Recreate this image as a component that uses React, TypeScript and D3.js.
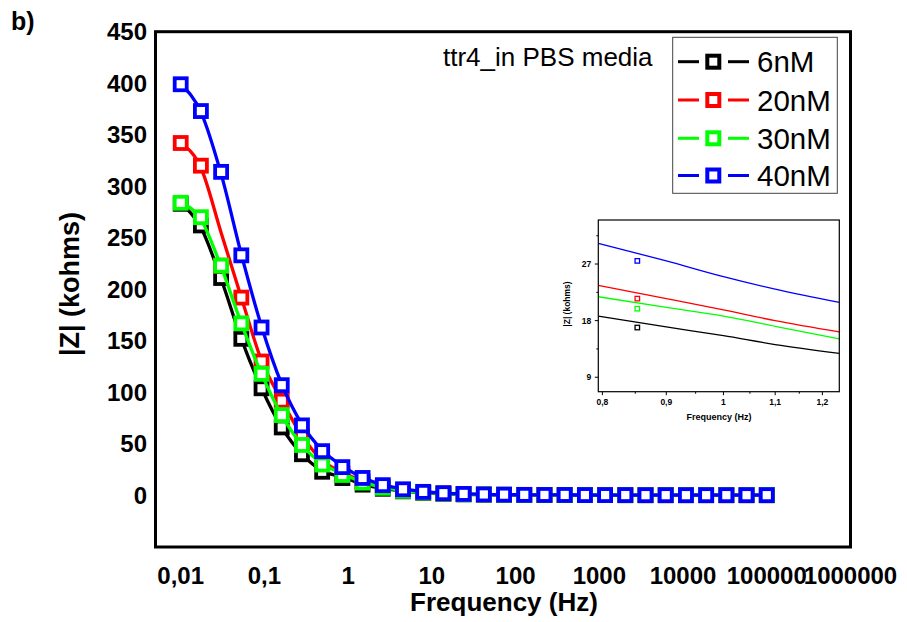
import React from "react";
import * as d3 from "d3";

// Frequencies (Hz) of the measured points
const FREQS = [0.01, 0.01743, 0.03039, 0.05298, 0.09237, 0.161, 0.2807, 0.4894, 0.8532, 1.487, 2.593, 4.52, 7.88, 13.74, 23.95, 41.75, 72.79, 126.9, 221.2, 385.7, 672.4, 1172, 2043, 3562, 6210, 10826, 18874, 32903, 57362, 100000];

// |Z| markers (kohms)
const Z_6NM = [283, 262, 211, 152, 104, 66, 40, 23, 16.9, 10.5, 6.5, 4, 2.5, 1.6, 1.1, 0.8, 0.6, 0.5, 0.5, 0.4, 0.4, 0.4, 0.3, 0.3, 0.3, 0.3, 0.3, 0.3, 0.3, 0.3];
const Z_20NM = [342, 320, 223, 192, 130, 92, 57, 33, 21.5, 13.5, 8, 5, 3, 2, 1.3, 0.9, 0.7, 0.5, 0.5, 0.4, 0.4, 0.4, 0.3, 0.3, 0.3, 0.3, 0.3, 0.3, 0.3, 0.3];
const Z_30NM = [284, 270, 223, 167, 118, 78, 49, 30, 19.9, 12.5, 7.5, 4.5, 2.8, 1.8, 1.2, 0.9, 0.7, 0.5, 0.5, 0.4, 0.4, 0.4, 0.3, 0.3, 0.3, 0.3, 0.3, 0.3, 0.3, 0.3];
const Z_40NM = [399, 373, 314, 233, 163, 107, 68, 43, 27.5, 17, 10, 6, 3.5, 2.2, 1.5, 1.0, 0.8, 0.6, 0.5, 0.5, 0.4, 0.4, 0.4, 0.3, 0.3, 0.3, 0.3, 0.3, 0.3, 0.3];

// Fitted curves (kohms) at the same frequencies
const FIT_6NM = [283, 260, 210, 152, 104, 66, 40, 24, 18, 11, 6.8, 4.2, 2.6, 1.6, 1.1, 0.8, 0.6, 0.5, 0.5, 0.4, 0.4, 0.4, 0.3, 0.3, 0.3, 0.3, 0.3, 0.3, 0.3, 0.3];
const FIT_20NM = [342, 318, 255, 192, 131, 92, 58, 34, 22.5, 14, 8.5, 5.2, 3.2, 2, 1.3, 0.9, 0.7, 0.5, 0.5, 0.4, 0.4, 0.4, 0.3, 0.3, 0.3, 0.3, 0.3, 0.3, 0.3, 0.3];
const FIT_30NM = [284, 268, 222, 167, 118, 78, 49, 31, 21, 13, 8, 4.8, 3, 1.9, 1.2, 0.9, 0.7, 0.5, 0.5, 0.4, 0.4, 0.4, 0.3, 0.3, 0.3, 0.3, 0.3, 0.3, 0.3, 0.3];
const FIT_40NM = [399, 372, 312, 234, 164, 108, 69, 44, 28.5, 17.5, 10.5, 6.3, 3.8, 2.3, 1.5, 1.0, 0.8, 0.6, 0.5, 0.5, 0.4, 0.4, 0.4, 0.3, 0.3, 0.3, 0.3, 0.3, 0.3, 0.3];

// Inset: fitted curves near 1 Hz
const INSET_FREQS = [0.794, 0.9, 1.0, 1.1, 1.238];
const INSET_6NM = [18.7, 17.0, 15.6, 14.2, 12.8];
const INSET_20NM = [23.6, 21.5, 19.7, 18.0, 16.2];
const INSET_30NM = [21.8, 20.1, 18.7, 17.1, 15.1];
const INSET_40NM = [30.3, 27.5, 25.0, 23.0, 20.9];

const SERIES_NAMES = ["6nM", "20nM", "30nM", "40nM"];
const SERIES_COLORS = ["#000000", "#ff0000", "#00ff00", "#0000ff"];
const MARKERS = [Z_6NM, Z_20NM, Z_30NM, Z_40NM];
const FITS = [FIT_6NM, FIT_20NM, FIT_30NM, FIT_40NM];
const INSET_FITS = [INSET_6NM, INSET_20NM, INSET_30NM, INSET_40NM];

const X_TICKS = [0.01, 0.1, 1, 10, 100, 1000, 10000, 100000, 1000000];
const X_TICK_LABELS = ["0,01", "0,1", "1", "10", "100", "1000", "10000", "100000", "1000000"];
const Y_TICKS = [0, 50, 100, 150, 200, 250, 300, 350, 400, 450];
const INSET_X_TICKS = [0.8, 0.9, 1.0, 1.1, 1.2];
const INSET_X_LABELS = ["0,8", "0,9", "1", "1,1", "1,2"];
const INSET_X_MINOR = [0.85, 0.95, 1.05, 1.15];
const INSET_Y_TICKS = [9, 18, 27];
const INSET_Y_MINOR = [13.5, 22.5, 31.5];

const FONT = "'Liberation Sans', Arial, Helvetica, sans-serif";

export default function App() {
  const L = 155.5, R = 850.5, T = 31.7, B = 547;
  const x = d3.scaleLog().domain([0.005, 1e6]).range([L, R]);
  const y = d3.scaleLinear().domain([-50, 450]).range([B, T]);

  const iL = 598.3, iR = 839.3, iT = 220, iB = 391.7;
  const ix = d3.scaleLog().domain([0.794, 1.238]).range([iL, iR]);
  const iy = d3.scaleLinear().domain([6.7, 34]).range([iB, iT]);

  const line = d3
    .line<[number, number]>()
    .x((d) => x(d[0]))
    .y((d) => y(d[1]))
    .curve(d3.curveMonotoneX);
  const iline = d3
    .line<[number, number]>()
    .x((d) => ix(d[0]))
    .y((d) => iy(d[1]))
    .curve(d3.curveMonotoneX);

  const ms = 12;
  const ims = 4.5;
  const legX = 672.7, legY = 37.3, legW = 164.6, legH = 156;
  const legRows = [61.7, 100, 138.3, 175.5];
  const legSym = 713.3;

  return (
    <svg
      width={907}
      height={622}
      style={{ position: "absolute", left: 0, top: 0, background: "#fff" }}
      fontFamily={FONT}
    >
      <rect x={0} y={0} width={907} height={622} fill="#fff" />
      <text x={11} y={30} fontSize={25} fontWeight="bold">b)</text>

      {/* main series */}
      <g>
        {SERIES_NAMES.map((name, si) => (
          <g key={name}>
            <path
              d={line(FREQS.map((f, i) => [f, FITS[si][i]] as [number, number])) || ""}
              fill="none"
              stroke={SERIES_COLORS[si]}
              strokeWidth={3.3}
            />
            {FREQS.map((f, i) => (
              <rect
                key={i}
                x={x(f) - ms / 2}
                y={y(MARKERS[si][i]) - ms / 2}
                width={ms}
                height={ms}
                fill="#fff"
                stroke={SERIES_COLORS[si]}
                strokeWidth={3.8}
              />
            ))}
          </g>
        ))}
      </g>

      {/* frame */}
      <rect x={L} y={T} width={R - L} height={B - T} fill="none" stroke="#000" strokeWidth={3} />

      {/* y tick labels */}
      {Y_TICKS.map((t) => (
        <text key={t} x={147} y={y(t) + 8.5} textAnchor="end" fontSize={24} fontWeight="bold">
          {t}
        </text>
      ))}
      {/* x tick labels */}
      {X_TICKS.map((t, i) => (
        <text key={t} x={x(t)} y={584} textAnchor="middle" fontSize={24} fontWeight="bold">
          {X_TICK_LABELS[i]}
        </text>
      ))}
      <text x={504} y={611} textAnchor="middle" fontSize={26} fontWeight="bold">
        Frequency (Hz)
      </text>
      <text
        transform={`translate(79,284) rotate(-90)`}
        textAnchor="middle"
        fontSize={27}
        fontWeight="bold"
      >
        |Z| (kohms)
      </text>

      {/* annotation */}
      <text x={443} y={66} fontSize={26}>ttr4_in PBS media</text>

      {/* legend */}
      <rect x={legX} y={legY} width={legW} height={legH} fill="#fff" stroke="#444" strokeWidth={1} />
      {SERIES_NAMES.map((name, si) => (
        <g key={name}>
          <line x1={678} x2={699} y1={legRows[si]} y2={legRows[si]} stroke={SERIES_COLORS[si]} strokeWidth={3} />
          <line x1={728} x2={749} y1={legRows[si]} y2={legRows[si]} stroke={SERIES_COLORS[si]} strokeWidth={3} />
          <rect
            x={legSym - 6}
            y={legRows[si] - 6}
            width={12}
            height={12}
            fill="#fff"
            stroke={SERIES_COLORS[si]}
            strokeWidth={4}
          />
          <text x={757} y={legRows[si] + 10.5} fontSize={29.5}>{name}</text>
        </g>
      ))}

      {/* inset */}
      <g>
        <rect x={iL} y={iT} width={iR - iL} height={iB - iT} fill="#fff" stroke="none" />
        <defs>
          <clipPath id="insetClip">
            <rect x={iL} y={iT} width={iR - iL} height={iB - iT} />
          </clipPath>
        </defs>
        <g clipPath="url(#insetClip)">
          {SERIES_NAMES.map((name, si) => (
            <g key={name}>
              <path
                d={iline(INSET_FREQS.map((f, i) => [f, INSET_FITS[si][i]] as [number, number])) || ""}
                fill="none"
                stroke={SERIES_COLORS[si]}
                strokeWidth={1.3}
              />
              {FREQS.map((f, i) =>
                f >= 0.794 && f <= 1.238 ? (
                  <rect
                    key={i}
                    x={ix(f) - ims / 2}
                    y={iy(MARKERS[si][i]) - ims / 2}
                    width={ims}
                    height={ims}
                    fill="#fff"
                    stroke={SERIES_COLORS[si]}
                    strokeWidth={1.3}
                  />
                ) : null
              )}
            </g>
          ))}
        </g>
        <rect x={iL} y={iT} width={iR - iL} height={iB - iT} fill="none" stroke="#000" strokeWidth={1.2} />
        {INSET_X_TICKS.map((t, i) => (
          <g key={t}>
            <line x1={ix(t)} x2={ix(t)} y1={iB} y2={iB + 3.5} stroke="#000" strokeWidth={1} />
            <text x={ix(t)} y={405} textAnchor="middle" fontSize={8.5} fontWeight="bold">
              {INSET_X_LABELS[i]}
            </text>
          </g>
        ))}
        {INSET_X_MINOR.map((t) => (
          <line key={t} x1={ix(t)} x2={ix(t)} y1={iB} y2={iB + 2} stroke="#000" strokeWidth={1} />
        ))}
        {INSET_Y_TICKS.map((t) => (
          <g key={t}>
            <line x1={iL - 3.5} x2={iL} y1={iy(t)} y2={iy(t)} stroke="#000" strokeWidth={1} />
            <text x={iL - 7} y={iy(t) + 3} textAnchor="end" fontSize={8.5} fontWeight="bold">
              {t}
            </text>
          </g>
        ))}
        {INSET_Y_MINOR.map((t) => (
          <line key={t} x1={iL - 2} x2={iL} y1={iy(t)} y2={iy(t)} stroke="#000" strokeWidth={1} />
        ))}
        <text x={719} y={420} textAnchor="middle" fontSize={9} fontWeight="bold">
          Frequency (Hz)
        </text>
        <text transform={`translate(570,304) rotate(-90)`} textAnchor="middle" fontSize={8.5} fontWeight="bold">
          |Z| (kohms)
        </text>
      </g>
    </svg>
  );
}
